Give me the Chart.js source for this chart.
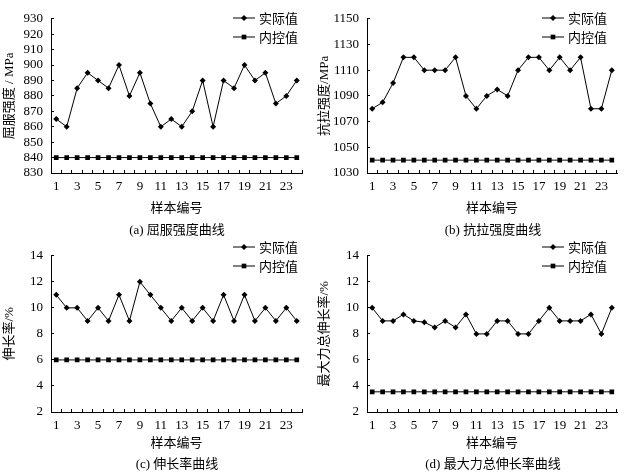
<!DOCTYPE html>
<html>
<head>
<meta charset="utf-8">
<script src="https://cdn.jsdelivr.net/npm/chart.js@4.4.0/dist/chart.umd.min.js"></script>
<style>
  body { margin: 0; background: #fff; }
  #wrap { position: relative; width: 630px; height: 474px; }
  canvas { position: absolute; }
  .cap { position: absolute; width: 250px; text-align: center; font: 13px "Liberation Serif", "Noto Sans CJK SC", serif; color: #000; }
</style>
</head>
<body>
<div id="wrap">
  <canvas id="ca" width="315" height="237" style="left:0;top:0"></canvas>
  <canvas id="cb" width="315" height="237" style="left:315px;top:0"></canvas>
  <canvas id="cc" width="315" height="237" style="left:0;top:237px"></canvas>
  <canvas id="cd" width="315" height="237" style="left:315px;top:237px"></canvas>
  <div class="cap" style="left:52px;top:219px">(a) 屈服强度曲线</div>
  <div class="cap" style="left:368px;top:219px">(b) 抗拉强度曲线</div>
  <div class="cap" style="left:52px;top:453px">(c) 伸长率曲线</div>
  <div class="cap" style="left:368px;top:453px">(d) 最大力总伸长率曲线</div>
</div>
<script>
// sample numbers 1..24
var samples = [];
for (var i = 1; i <= 24; i++) samples.push(String(i));

// (a) yield strength
var yieldActual = [865, 860, 885, 895, 890, 885, 900, 880, 895, 875, 860, 865, 860, 870, 890, 860, 890, 885, 900, 890, 895, 875, 880, 890];
var yieldControl = 840;
// (b) tensile strength
var tensileActual = [1080, 1085, 1100, 1120, 1120, 1110, 1110, 1110, 1120, 1090, 1080, 1090, 1095, 1090, 1110, 1120, 1120, 1110, 1120, 1110, 1120, 1080, 1080, 1110];
var tensileControl = 1040;
// (c) elongation
var elongActual = [11, 10, 10, 9, 10, 9, 11, 9, 12, 11, 10, 9, 10, 9, 10, 9, 11, 9, 11, 9, 10, 9, 10, 9];
var elongControl = 6;
// (d) total elongation at max force
var totalElongActual = [10, 9, 9, 9.5, 9, 8.9, 8.5, 9, 8.5, 9.5, 8, 8, 9, 9, 8, 8, 9, 10, 9, 9, 9, 9.5, 8, 10];
var totalElongControl = 3.55;

var seriesNames = ['实际值', '内控值'];
var numFont = '"Liberation Serif", "Noto Sans CJK SC", serif';

// Legend drawn inside the canvas: line with marker, then the name
var lineLegend = {
    id: 'lineLegend',
    afterDraw: function(chart, args, opts) {
        var ctx = chart.ctx;
        ctx.save();
        chart.data.datasets.forEach(function(ds, i) {
            var y = opts.y + i * 19;
            ctx.strokeStyle = '#000';
            ctx.lineWidth = 1;
            ctx.beginPath();
            ctx.moveTo(opts.x, y);
            ctx.lineTo(opts.x + 22, y);
            ctx.stroke();
            Chart.helpers.drawPoint(ctx, {pointStyle: ds.pointStyle, radius: ds.pointRadius, borderWidth: 0}, opts.x + 11, y);
            ctx.fillStyle = '#000';
            ctx.font = '13px "Noto Sans CJK SC", sans-serif';
            ctx.textBaseline = 'middle';
            ctx.fillText(ds.label, opts.x + 26, y);
        });
        ctx.restore();
    }
};

function makeChart(id, actual, control, yMin, yMax, yStep, yTitle, top, xHeight, titlePad, legendX, legendY) {
    var controlLine = samples.map(function() { return control; });
    new Chart(document.getElementById(id), {
        type: 'line',
        data: {
            labels: samples,
            datasets: [{
                label: seriesNames[0],
                data: actual,
                borderColor: '#000',
                backgroundColor: '#000',
                borderWidth: 1,
                pointStyle: 'rectRot',
                pointRadius: 3,
                pointBorderWidth: 0,
                tension: 0
            }, {
                label: seriesNames[1],
                data: controlLine,
                borderColor: '#000',
                backgroundColor: '#000',
                borderWidth: 1,
                pointStyle: 'rect',
                pointRadius: 3.3,
                pointBorderWidth: 0,
                tension: 0
            }]
        },
        options: {
            responsive: false,
            animation: false,
            layout: { padding: { left: 0, right: 13, top: top, bottom: 0 } },
            plugins: {
                legend: { display: false },
                tooltip: { enabled: false },
                lineLegend: { x: legendX, y: legendY }
            },
            scales: {
                x: {
                    offset: true,
                    afterFit: function(scale) { scale.height = xHeight; },
                    border: { color: '#000', width: 1 },
                    // negative length turns the tick marks inward
                    grid: { offset: true, drawOnChartArea: false, color: '#000', tickLength: -3 },
                    ticks: {
                        autoSkip: false,
                        maxRotation: 0,
                        padding: 9,
                        color: '#000',
                        font: { family: numFont, size: 13 },
                        callback: function(v, idx) { return idx % 2 === 0 ? samples[idx] : ''; }
                    },
                    title: {
                        display: true,
                        text: '样本编号',
                        color: '#000',
                        font: { family: '"Noto Sans CJK SC", sans-serif', size: 13 },
                        padding: { top: 0, bottom: titlePad }
                    }
                },
                y: {
                    min: yMin,
                    max: yMax,
                    afterFit: function(scale) { scale.width = id === 'ca' || id === 'cc' ? 51 : 52; },
                    border: { color: '#000', width: 1 },
                    grid: { drawOnChartArea: false, color: '#000', tickLength: -3 },
                    ticks: {
                        stepSize: yStep,
                        autoSkip: false,
                        padding: 11,
                        color: '#000',
                        font: { family: numFont, size: 13 },
                        callback: function(v) { return String(v); }
                    },
                    title: {
                        display: true,
                        text: yTitle,
                        color: '#000',
                        font: { family: numFont, size: 13 },
                        padding: { top: 2, bottom: 0 }
                    }
                }
            }
        },
        plugins: [lineLegend]
    });
}

makeChart('ca', yieldActual, yieldControl, 830, 930, 10, '屈服强度 / MPa', 16, 64, 22, 233, 18);
makeChart('cb', tensileActual, tensileControl, 1030, 1150, 20, '抗拉强度/MPa', 16, 64, 22, 227, 18);
makeChart('cc', elongActual, elongControl, 2, 14, 2, '伸长率/%', 18, 62, 24, 233, 10);
makeChart('cd', totalElongActual, totalElongControl, 2, 14, 2, '最大力总伸长率/%', 18, 62, 24, 227, 10);
</script>
</body>
</html>
